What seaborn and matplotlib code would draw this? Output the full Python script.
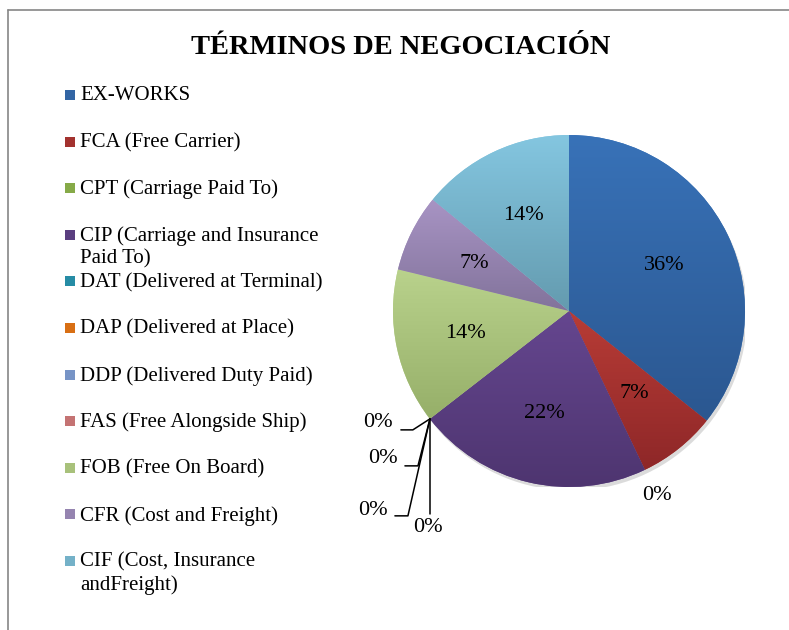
import numpy as np
import matplotlib
matplotlib.use("Agg")
import matplotlib.pyplot as plt
import matplotlib.colors as mcolors
from matplotlib.lines import Line2D
from matplotlib.patches import Rectangle, Circle
import seaborn as sns

# --- data ---
terms = ["EX-WORKS", "FCA (Free Carrier)", "CPT (Carriage Paid To)",
         "CIP (Carriage and Insurance\nPaid To)", "DAT (Delivered at Terminal)",
         "DAP (Delivered at Place)", "DDP (Delivered Duty Paid)",
         "FAS (Free Alongside Ship)", "FOB (Free On Board)",
         "CFR (Cost and Freight)", "CIF (Cost, Insurance\nandFreight)"]
shares = [35.7, 7.2, 0, 21.6, 0, 0, 0, 0, 14.3, 7.1, 14.1]

# Excel-like gradient colours (top -> bottom)
top_colors = ["#3872B8", "#B83C36", "#98BE55", "#65468F", "#2C9DBA", "#F07E1E",
              "#8AA7D6", "#D98585", "#B9D28C", "#A894C4", "#84C6E0"]
bottom_colors = ["#2B5790", "#8E2728", "#74963A", "#4E3570", "#1F7A90", "#C0600A",
                 "#6482B5", "#B06060", "#96AF69", "#82739B", "#649BAF"]

sns.set_style("white")
plt.rcParams["font.family"] = ["Liberation Serif", "DejaVu Serif"]
plt.rcParams["text.color"] = "black"

W, H = 789, 630
fig = plt.figure(figsize=(W / 100, H / 100), dpi=100)

# pie axes: centre (569, 311) px, radius 176 px
cx, cy, r = 569, 311, 176
ax = fig.add_axes([(cx - r) / W, (H - cy - r) / H, 2 * r / W, 2 * r / H])


def pct_label(p):
    return f"{p:.0f}%"


wedges, texts, autotexts = ax.pie(shares, startangle=90, counterclock=False,
                                  colors=top_colors, autopct=pct_label,
                                  pctdistance=0.6,
                                  wedgeprops=dict(linewidth=0))

# soft shadow under the pie
ax.add_patch(Circle((0.012, -0.02), 1.0, color="#9a9a9a", alpha=0.35, lw=0, zorder=0.5))


def add_gradient(ax, wedge, top, bottom):
    x0, y0, x1, y1 = wedge.get_path().get_extents().extents
    t = np.linspace(0, 1, 200)[:, None, None]
    c0 = np.array(mcolors.to_rgb(top))
    c1 = np.array(mcolors.to_rgb(bottom))
    img = (1 - t) * c0 + t * c1
    im = ax.imshow(img, extent=[x0, x1, y0, y1], origin="upper", aspect="auto",
                   interpolation="bilinear", zorder=2)
    im.set_clip_path(wedge)


for w, v, c0, c1 in zip(wedges, shares, top_colors, bottom_colors):
    if v > 0:
        add_gradient(ax, w, c0, c1)

for t in autotexts:
    t.set_fontsize(16)
    t.set_color("black")
    t.set_zorder(5)

ax.set_xlim(-1, 1)
ax.set_ylim(-1, 1)
ax.set_aspect("equal")
ax.axis("off")

# zero slices: hide the inner labels, put them outside
zero_idx = [i for i, v in enumerate(shares) if v == 0]
for i in zero_idx:
    autotexts[i].set_visible(False)

# CPT zero sits alone on the FCA/CIP border
th = np.deg2rad(wedges[2].theta1)
ax.text(1.16 * np.cos(th), 1.16 * np.sin(th), pct_label(0), fontsize=16,
        ha="center", va="center", clip_on=False)

# the other four share the CIP/FOB border, with leader lines
th = np.deg2rad(wedges[4].theta1)
tip = np.array([np.cos(th), np.sin(th)])
leaders = [  # text offset, ha, va, line points (relative to tip, radius units)
    ((-0.21, -0.023), "right", "center", [(-0.097, -0.0625), (-0.165, -0.0625)]),
    ((-0.182, -0.227), "right", "center", [(-0.068, -0.267), (-0.142, -0.267)]),
    ((-0.239, -0.523), "right", "center", [(-0.125, -0.551), (-0.199, -0.551)]),
    ((-0.011, -0.62), "center", "center", [(0.0, -0.54)]),
]
for (dx, dy), ha, va, pts in leaders:
    xs = [tip[0]] + [tip[0] + p[0] for p in pts]
    ys = [tip[1]] + [tip[1] + p[1] for p in pts]
    ax.plot(xs, ys, color="black", lw=1.1, clip_on=False, zorder=6)
    ax.text(tip[0] + dx, tip[1] + dy, pct_label(0), fontsize=16, ha=ha, va=va,
            clip_on=False)

# title
fig.text(401 / W, 1 - 47 / H, "TÉRMINOS DE NEGOCIACIÓN", ha="center", va="center",
         fontsize=20.5, fontweight="bold")

# legend (fixed row pitch like the original)
for i, (lab, c0, c1) in enumerate(zip(terms, top_colors, bottom_colors)):
    base = 101 + 46.6 * i
    fig.text(80 / W, 1 - (base - 14.5) / H, lab, fontsize=15, va="top", ha="left",
             linespacing=1.25)
    mid = (np.array(mcolors.to_rgb(c0)) + np.array(mcolors.to_rgb(c1))) / 2
    fig.add_artist(Rectangle((65 / W, 1 - (base - 1) / H), 10 / W, 10 / H,
                             transform=fig.transFigure, color=mid, lw=0))

# chart frame (top and left edges visible)
fig.add_artist(Line2D([8 / W, 1], [1 - 10 / H, 1 - 10 / H], transform=fig.transFigure,
                      color="#868686", lw=1.2))
fig.add_artist(Line2D([8 / W, 8 / W], [0, 1 - 10 / H], transform=fig.transFigure,
                      color="#868686", lw=1.2))

fig.savefig("out.png", dpi=100)
